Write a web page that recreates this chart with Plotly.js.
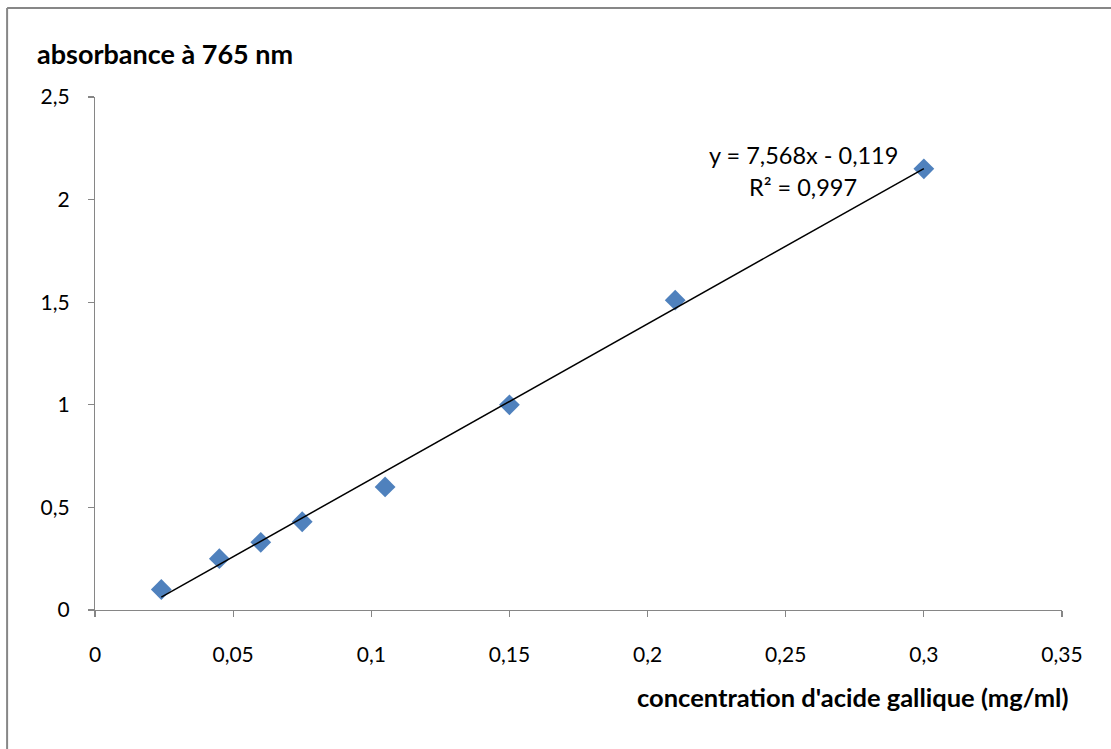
<!DOCTYPE html>
<html>
<head>
<meta charset="utf-8">
<script src="https://cdn.plot.ly/plotly-3.0.1.min.js"></script>
<style>html,body{margin:0;padding:0;background:#fff;}#chart{width:1111px;height:749px;}</style>
</head>
<body>
<div id="chart"></div>
<script>
const concentration = [0.024, 0.045, 0.06, 0.075, 0.105, 0.15, 0.21, 0.30];
const absorbance = [0.10, 0.25, 0.33, 0.43, 0.60, 1.00, 1.51, 2.15];
const slope = 7.568;
const intercept = -0.119;
const trendX = [0.024, 0.30];
const trendY = trendX.map(x => slope * x + intercept);
const xTitle = "concentration d'acide gallique (mg/ml)";
const yTitle = "absorbance à 765 nm";
const eqLine = "y = 7,568x - 0,119";
const r2Line = "R² = 0,997";

const font = "Lato, 'Open Sans', sans-serif";

const traces = [
  {x: concentration, y: absorbance, mode: 'markers', type: 'scatter',
   marker: {symbol: 'diamond', size: 16, color: '#4F81BD', line: {width: 0}}},
  {x: trendX, y: trendY, mode: 'lines', type: 'scatter',
   line: {color: '#000000', width: 1.5}}
];

const layout = {
  width: 1111, height: 749,
  margin: {l: 95, r: 49, t: 97, b: 139},
  paper_bgcolor: '#ffffff', plot_bgcolor: '#ffffff',
  showlegend: false,
  separators: ',.',
  font: {family: font, size: 21, color: '#000000'},
  xaxis: {range: [0, 0.35], dtick: 0.05, tick0: 0, showgrid: false, zeroline: false,
    showline: true, linecolor: '#868686', linewidth: 1.2,
    ticks: 'outside', ticklen: 6, tickcolor: '#868686', tickwidth: 1.2,
    ticklabelstandoff: 20, tickfont: {family: font, size: 21}},
  yaxis: {range: [0, 2.5], dtick: 0.5, tick0: 0, showgrid: false, zeroline: false,
    showline: true, linecolor: '#868686', linewidth: 1.2,
    ticks: 'outside', ticklen: 6, tickcolor: '#868686', tickwidth: 1.2,
    ticklabelstandoff: 14, tickfont: {family: font, size: 21}},
  shapes: [
    {type: 'line', xref: 'paper', yref: 'paper', x0: -0.0909, x1: 1.2, y0: 1.1735, y1: 1.1735,
     line: {color: '#878787', width: 2}},
    {type: 'line', xref: 'paper', yref: 'paper', x0: -0.0909, x1: -0.0909, y0: -0.5, y1: 1.1735,
     line: {color: '#878787', width: 2}}
  ],
  annotations: [
    {text: '<b>' + yTitle + '</b>', xref: 'paper', yref: 'paper', x: -0.0620, y: 1.084,
     xanchor: 'left', yanchor: 'middle', showarrow: false, font: {family: font, size: 27}},
    {text: '<b>' + xTitle + '</b>', xref: 'paper', yref: 'paper', x: 1.0082, y: -0.1696,
     xanchor: 'right', yanchor: 'middle', showarrow: false, font: {family: font, size: 25.5}},
    {text: eqLine, xref: 'x', yref: 'y', x: 0.2564, y: 2.217, xanchor: 'center', yanchor: 'middle',
     showarrow: false, font: {family: font, size: 23.5}},
    {text: r2Line, xref: 'x', yref: 'y', x: 0.2564, y: 2.061, xanchor: 'center', yanchor: 'middle',
     showarrow: false, font: {family: font, size: 23.5}}
  ]
};

Plotly.newPlot('chart', traces, layout, {displayModeBar: false, staticPlot: true});
</script>
</body>
</html>
